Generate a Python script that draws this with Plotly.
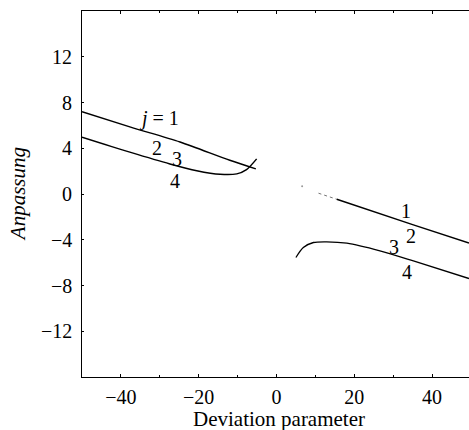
import plotly.graph_objects as go

# Left branch, j = 1
left_j1_x = [-50, -37.5, -24.8, -12, -5.3]
left_j1_y = [7.2, 5.85, 4.55, 2.95, 2.2]
# Left branch, j = 2,3,4 (merged)
left_j234_x = [-50, -37.7, -27.4, -20.5, -14.5, -10.2, -7.7, -5.1]
left_j234_y = [4.97, 3.66, 2.63, 2.04, 1.72, 1.76, 2.13, 3.07]
# Right branch, j = 1 (faint start, then solid)
right_j1_faint_x = [10.8, 15.5]
right_j1_faint_y = [0.07, -0.46]
right_j1_x = [15.5, 35.2, 49.5]
right_j1_y = [-0.46, -2.7, -4.28]
# stray faint point before the right branch
stray_x = [6.6]
stray_y = [0.67]
# Right branch, j = 2,3,4
right_j234_x = [5.0, 6.9, 9.5, 12.9, 18.1, 26.6, 35.2, 49.5]
right_j234_y = [-5.55, -4.68, -4.24, -4.18, -4.3, -4.97, -5.85, -7.39]

# curve labels
label_text = ["<i>j</i> = 1", "2", "3", "4", "1", "2", "3", "4"]
label_x = [-30.2, -30.8, -25.7, -26.1, 33.3, 34.6, 30.3, 33.5]
label_y = [6.6, 4.0, 3.07, 1.17, -1.52, -3.66, -4.62, -6.8]

x_ticks = [-40, -20, 0, 20, 40]
y_ticks = [-12, -8, -4, 0, 4, 8, 12]
x_tick_text = ["\u221240", "\u221220", "0", "20", "40"]
y_tick_text = ["\u221212", "\u22128", "\u22124", "0", "4", "8", "12"]

FONT = "Liberation Serif, Times New Roman, serif"

fig = go.Figure()
line = dict(color="black", width=1.5, shape="spline", smoothing=0.8)
fig.add_trace(go.Scatter(x=left_j1_x, y=left_j1_y, mode="lines", line=line))
fig.add_trace(go.Scatter(x=left_j234_x, y=left_j234_y, mode="lines", line=line))
fig.add_trace(go.Scatter(x=right_j1_faint_x, y=right_j1_faint_y, mode="lines",
                         line=dict(color="#777777", width=1, dash="dot")))
fig.add_trace(go.Scatter(x=stray_x, y=stray_y, mode="markers",
                         marker=dict(color="#999999", size=2)))
fig.add_trace(go.Scatter(x=right_j1_x, y=right_j1_y, mode="lines", line=line))
fig.add_trace(go.Scatter(x=right_j234_x, y=right_j234_y, mode="lines",
                         line=dict(color="black", width=1.3, shape="spline", smoothing=0.8)))

for t, x, y in zip(label_text, label_x, label_y):
    fig.add_annotation(x=x, y=y, text=t, showarrow=False,
                       font=dict(family=FONT, size=20, color="black"))

# y tick labels, placed on the y data scale just left of the axis
for t, y in zip(y_tick_text, y_ticks):
    fig.add_annotation(xref="paper", x=0, y=y, text=t, showarrow=False,
                       xanchor="right", yanchor="middle", xshift=-8,
                       font=dict(family=FONT, size=20, color="black"))

# axis titles
fig.add_annotation(xref="paper", yref="paper", x=0.51, y=-0.115,
                   xanchor="center", yanchor="middle", showarrow=False,
                   text="Deviation parameter",
                   font=dict(family=FONT, size=21, color="black"))
fig.add_annotation(xref="paper", yref="paper", x=-0.165, y=0.5,
                   xanchor="center", yanchor="middle", showarrow=False,
                   textangle=-90, text="<i>Anpassung</i>",
                   font=dict(family=FONT, size=21, color="black"))

fig.update_layout(
    width=469, height=430,
    margin=dict(l=82, r=0, t=11, b=53),
    paper_bgcolor="white", plot_bgcolor="white",
    showlegend=False,
    font=dict(family=FONT, size=20, color="black"),
)
fig.update_xaxes(
    range=[-50, 49.5], tickvals=x_ticks, ticktext=x_tick_text,
    showgrid=False, zeroline=False, automargin=False,
    showline=True, linecolor="black", linewidth=1.2, mirror="ticks",
    ticks="inside", ticklen=3, tickcolor="black",
    minor=dict(dtick=10, ticks="inside", ticklen=2, tickcolor="black"),
    ticklabelstandoff=2,
    tickfont=dict(family=FONT, size=20),
)
fig.update_yaxes(
    range=[-16, 16], tickvals=y_ticks, showticklabels=False,
    showgrid=False, zeroline=False, automargin=False,
    showline=True, linecolor="black", linewidth=1.2,
    ticks="inside", ticklen=2, tickcolor="black",
)

fig.write_html("out.html", config={"displayModeBar": False},
               post_script="document.body.style.margin='0';document.body.style.overflow='hidden';")
